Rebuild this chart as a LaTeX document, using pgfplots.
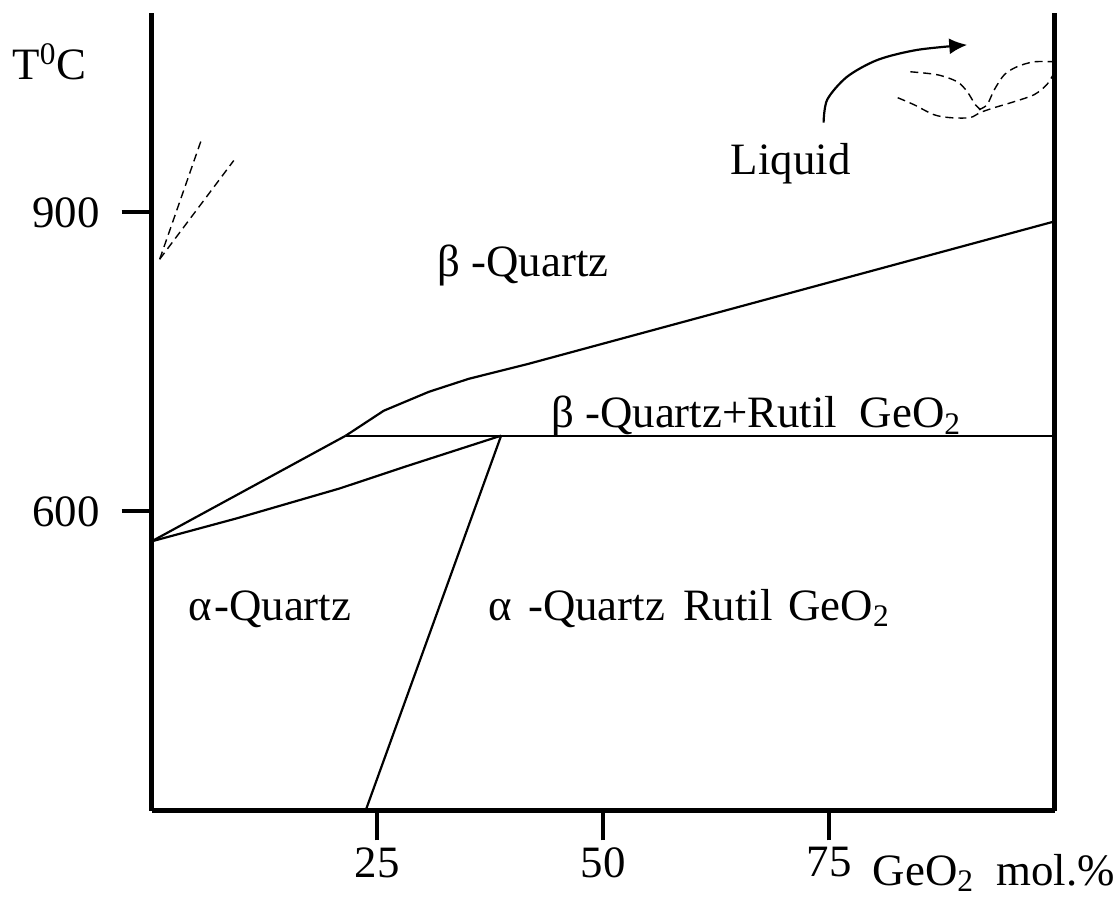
\documentclass[border=0pt]{standalone}
\usepackage{fontspec}
\setmainfont{Liberation Serif}
\usepackage{pgfplots}
\pgfplotsset{compat=1.18}
\usetikzlibrary{arrows.meta}
\begin{document}
\begin{tikzpicture}
\begin{axis}[
  scale only axis, width=453pt, height=400pt,
  xmin=0, xmax=100, ymin=300, ymax=1100,
  axis x line*=bottom, axis y line*=left,
  axis line style={line width=2.5pt, -},
  xtick={25,50,75}, ytick={600,900},
  minor tick num=0,
  tick align=outside, major tick length=15pt,
  tick style={line width=2pt, black},
  yticklabel style={xshift=-7.5pt},
  font=\fontsize{22.5}{27}\selectfont,
  /pgf/number format/assume math mode=true,
  clip=false,
]
% frame right side
\addplot[line width=2.5pt] coordinates {(100,300) (100,1100)};
% phase boundaries
\addplot[line width=1.1pt] coordinates {(21.5,676) (25.7,701) (30.7,720) (35.1,733) (41.7,748) (100,891)};
\addplot[line width=1.1pt] coordinates {(21.5,676) (100,676)};
\addplot[line width=1.1pt] coordinates {(0,570) (21.5,676)};
\addplot[line width=1.1pt] coordinates {(0,570) (9.4,593) (20.8,623) (28.1,645) (38.7,676)};
\addplot[line width=1.1pt] coordinates {(38.7,676) (23.7,300)};
% dashed lines top left
\addplot[line width=0.7pt, dash pattern=on 4pt off 2.5pt] coordinates {(0.9,853) (5.6,975)};
\addplot[line width=0.7pt, dash pattern=on 4pt off 2.5pt] coordinates {(0.9,853) (9.1,952)};
% dashed curves top right
\addplot[line width=0.7pt, dash pattern=on 4pt off 2.5pt, smooth] coordinates {(84.0,1041) (87.0,1038) (89.2,1031) (90.3,1021) (91.2,1008) (91.8,1003)};
\addplot[line width=0.7pt, dash pattern=on 4pt off 2.5pt, smooth] coordinates {(91.6,1003) (92.5,1008) (93.3,1023) (94.4,1038) (95.8,1046) (97.7,1051) (100,1051)};
\addplot[line width=0.7pt, dash pattern=on 4pt off 2.5pt, smooth] coordinates {(82.6,1015) (84.4,1008) (86.6,998) (88.4,995) (90.6,995) (91.7,1000) (93.3,1005) (95.5,1011) (97.7,1018) (99.1,1028) (100,1041)};
% arrow
\addplot[line width=1.1pt, smooth, -{Latex[length=9pt,width=8pt]}] coordinates {(74.4,990) (74.8,1013) (77.0,1036) (80.4,1053) (84.8,1063) (90.3,1068)};
% labels
\node[anchor=base west, inner sep=0pt] at (axis cs:-15.45,1033) {T\textsuperscript{0}C};
\node[anchor=base west, inner sep=0pt] at (axis cs:64.1,938) {Liquid};
\node[anchor=base west, inner sep=0pt] at (axis cs:31.6,836) {β -Quartz};
\node[anchor=base west, inner sep=0pt] at (axis cs:44.2,684) {β -Quartz+Rutil\ \ GeO\textsubscript{2}};
\node[anchor=base west, inner sep=0pt] at (axis cs:4.1,491) {α\hspace{0.04em}-Quartz};
\node[anchor=base west, inner sep=0pt] at (axis cs:37.3,491) {α\hspace{0.1em} -Quartz\hspace{0.15em} Rutil\hspace{0.1em} GeO\textsubscript{2}};
\node[anchor=base west, inner sep=0pt] at (axis cs:79.8,225) {GeO\textsubscript{2}\ \ mol.\%};
\coordinate (bbl) at (axis cs:-16.78,202);
\coordinate (btr) at (axis cs:106.29,1113);
\end{axis}
\path[use as bounding box] (bbl) rectangle (btr);
\end{tikzpicture}
\end{document}
